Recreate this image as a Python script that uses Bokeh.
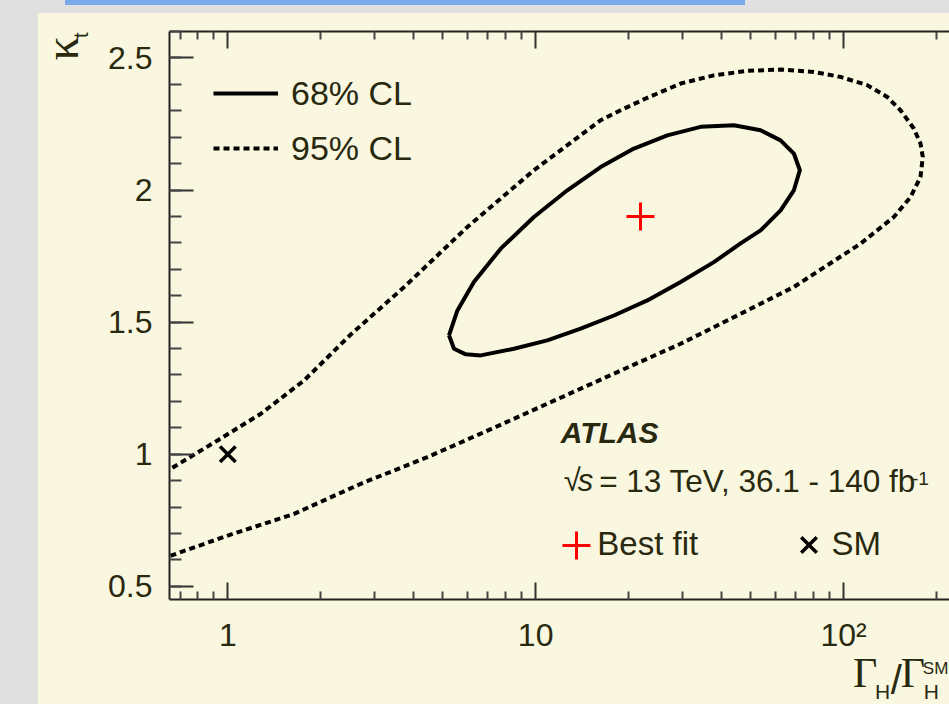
from bokeh.plotting import figure
from bokeh.models import (LogAxis, FixedTicker, NumeralTickFormatter, Range1d, Label, Legend,
                          LegendItem, Div, CustomJSTickFormatter)
from bokeh.layouts import column, row
from bokeh.embed import file_html
from bokeh.resources import INLINE

# ---------------- data ----------------
# 68% CL contour: Gamma_H / Gamma_H^SM  vs  kappa_t
cl68_width = [5.23, 5.43, 5.93, 6.63, 8.50, 10.91, 14.00, 17.96, 23.05, 29.57, 37.92, 46.31,
              53.78, 62.45, 68.97, 72.14, 68.97, 62.45, 53.78, 44.04, 34.34, 26.77, 20.85,
              16.26, 12.67, 9.87, 7.70, 6.30, 5.57, 5.23]
cl68_kt = [1.450, 1.399, 1.378, 1.374, 1.399, 1.431, 1.475, 1.525, 1.582, 1.652, 1.727, 1.798,
           1.847, 1.923, 1.999, 2.075, 2.138, 2.188, 2.226, 2.245, 2.239, 2.207, 2.157,
           2.087, 1.999, 1.898, 1.778, 1.652, 1.544, 1.450]

# 95% CL contour (open at the left edge of the plot)
cl95_width = [0.606, 0.653, 1.00, 1.642, 2.703, 4.45, 6.79, 10.91, 17.96, 29.57, 48.68, 68.97,
              88.53, 113.6, 145.7, 165.0, 177.8, 180.9,
              177.8, 169.1, 153.1, 138.7, 119.4, 97.8, 80.1, 62.45, 48.68, 37.92, 29.57, 23.05,
              18.88, 16.26, 9.87, 6.00, 3.74, 2.508, 1.769, 1.280, 0.926, 0.653, 0.606]
cl95_kt = [0.605, 0.616, 0.692, 0.774, 0.888, 0.989, 1.083, 1.191, 1.305, 1.418, 1.544, 1.633,
           1.715, 1.797, 1.898, 1.973, 2.049, 2.125,
           2.176, 2.233, 2.302, 2.352, 2.397, 2.428, 2.447, 2.456, 2.451, 2.434, 2.403, 2.349,
           2.302, 2.264, 2.075, 1.860, 1.633, 1.453, 1.279, 1.153, 1.052, 0.945, 0.927]

best_fit_width = [21.9]
best_fit_kt = [1.90]
sm_width = [1.0]
sm_kt = [1.0]

x_ticks = [1, 10, 100]
x_minor_ticks = [m * d for d in [0.1, 1, 10, 100] for m in range(2, 10)]
y_ticks = [0.5, 1.0, 1.5, 2.0, 2.5]
y_minor_ticks = [round(0.4 + 0.1 * i, 1) for i in range(23)]

legend_labels = ["68% CL", "95% CL", "Best fit", "SM"]

# ---------------- style ----------------
YEL = "#f9f7df"
TXT = "#29290f"
GRAY = "#e0e0e0"
BLUE = "#79aaee"
FONT = "Liberation Sans"
SERIF = "Liberation Serif"


def bare(width, height, xr, yr, margin):
    f = figure(width=width, height=height, x_range=xr, y_range=yr,
               x_axis_type=None, y_axis_type=None, output_backend="svg",
               toolbar_location=None, min_border=0, outline_line_color=None,
               background_fill_color=None, border_fill_color=None, margin=margin)
    f.grid.visible = False
    return f


def lab(fig, x, y, t, size, font=FONT, style="normal", angle=0.0):
    fig.add_layout(Label(x=x, y=y, text=t, text_font=font, text_font_size=size,
                         text_font_style=style, text_color=TXT, text_align="left",
                         text_baseline="alphabetic", angle=angle))


# ---------------- main plot ----------------
p = figure(width=849, height=647, x_axis_type="log",
           x_range=Range1d(0.6466, 220.9), y_range=Range1d(0.45, 2.6),
           output_backend="svg", toolbar_location=None,
           min_border_left=69, min_border_right=0, min_border_top=18, min_border_bottom=61,
           background_fill_color=YEL, border_fill_color=YEL, outline_line_color=None)
p.grid.visible = False

xt = FixedTicker(ticks=x_ticks, minor_ticks=x_minor_ticks)


def style_axis(ax, maj, mnr):
    ax.axis_line_width = 2
    ax.axis_line_color = "#222222"
    ax.major_tick_in = maj
    ax.major_tick_out = 0
    ax.minor_tick_in = mnr
    ax.minor_tick_out = 0
    ax.major_tick_line_width = 2
    ax.minor_tick_line_width = 2
    ax.major_tick_line_color = "#333333"
    ax.minor_tick_line_color = "#444444"
    ax.major_label_text_font = FONT
    ax.major_label_text_font_size = "32px"
    ax.major_label_text_color = TXT


xa = p.xaxis[0]
xa.ticker = xt
xa.formatter = CustomJSTickFormatter(code="""
    const e = Math.round(Math.log10(tick));
    const sup = {2: '\u00b2', 3: '\u00b3'};
    return e >= 2 ? '10' + sup[e] : String(Math.round(tick));
""")
style_axis(xa, 17, 8)
xa.major_label_standoff = 17

ya = p.yaxis[0]
ya.ticker = FixedTicker(ticks=y_ticks, minor_ticks=y_minor_ticks)
ya.formatter = NumeralTickFormatter(format="0.[0]")
style_axis(ya, 24, 12)
ya.major_label_standoff = 17

top = LogAxis(ticker=xt, formatter=CustomJSTickFormatter(code="return ''"))
style_axis(top, 17, 8)
top.major_label_text_font_size = "1px"
top.major_label_standoff = 0
p.add_layout(top, "above")

# data marks
r68 = p.line(cl68_width, cl68_kt, line_width=4, line_color="black")
r95 = p.line(cl95_width, cl95_kt, line_width=4, line_color="black", line_dash="6 4")
rbf = p.scatter(best_fit_width, best_fit_kt, marker="cross", size=28, line_width=3,
                line_color="#ff0000")
rsm = p.scatter(sm_width, sm_kt, marker="x", size=22, line_width=3.5, line_color="black")

# legends
common = dict(padding=0, margin=0, background_fill_alpha=0, border_line_alpha=0,
              label_text_font=FONT, label_text_font_size="34px", label_text_color=TXT)
leg_cl = Legend(items=[LegendItem(label=legend_labels[0], renderers=[r68]),
                       LegendItem(label=legend_labels[1], renderers=[r95])],
                location=(44, 428), glyph_width=65, glyph_height=46, spacing=9,
                label_standoff=13, **common)
leg_bf = Legend(items=[LegendItem(label=" ", renderers=[rbf])],
                location=(372, 19), glyph_width=70, glyph_height=70, label_standoff=0, **common)
leg_sm = Legend(items=[LegendItem(label=" ", renderers=[rsm])],
                location=(612, 27), glyph_width=55, glyph_height=55, label_standoff=0, **common)
for lg in (leg_cl, leg_bf, leg_sm):
    p.add_layout(lg)

lab(p, 15.86, 0.6625, legend_labels[2], "33px")
lab(p, 91.4, 0.6625, legend_labels[3], "33px")

lab(p, 12.06, 1.081, "ATLAS", "30px", style="bold italic")
lab(p, 12.33, 0.900, "\u221a", "31px")
lab(p, 13.69, 0.900, "s", "31px", style="italic")
lab(p, 16.08, 0.900, "= 13 TeV, 36.1 - 140 fb", "31.5px")
lab(p, 166.9, 0.908, "-1", "19px")

# ---------------- axis titles (transparent strips overlapping the plot's borders) ----------------
left = bare(82, 691, Range1d(18, 100), Range1d(-704, -13), (0, 0, 0, -20))
lab(left, 61, -60, "\u03ba", "48px", font=SERIF, angle=1.5708)
lab(left, 80.6, -37.5, "t", "20px", angle=1.5708)

bottom = bare(849, 64, Range1d(100, 949), Range1d(-704, -640), (-20, 0, 0, 0))
lab(bottom, 844, -672.5, "\u0393", "42px", font=SERIF)
lab(bottom, 868, -691, "H", "21px")
lab(bottom, 885, -679.2, "/", "40px")
lab(bottom, 896, -672.5, "\u0393", "42px", font=SERIF)
lab(bottom, 920, -668, "SM", "17px")
lab(bottom, 921, -691, "H", "21px")

bar = Div(text="", width=680, height=5, margin=(0, 0, 0, 65),
          styles={"background-color": BLUE})
inner = column(p, bottom, spacing=0, styles={"background-color": YEL})
body = row(left, inner, spacing=0, margin=(8, 0, 0, 38), styles={"background-color": YEL})
layout = column(bar, body, spacing=0, styles={"background-color": GRAY})

html = file_html(layout, INLINE, title="kappa_t vs Gamma_H")
html = html.replace("<body>", '<body style="background-color:%s;">' % GRAY, 1)
open("out.html", "w").write(html)
